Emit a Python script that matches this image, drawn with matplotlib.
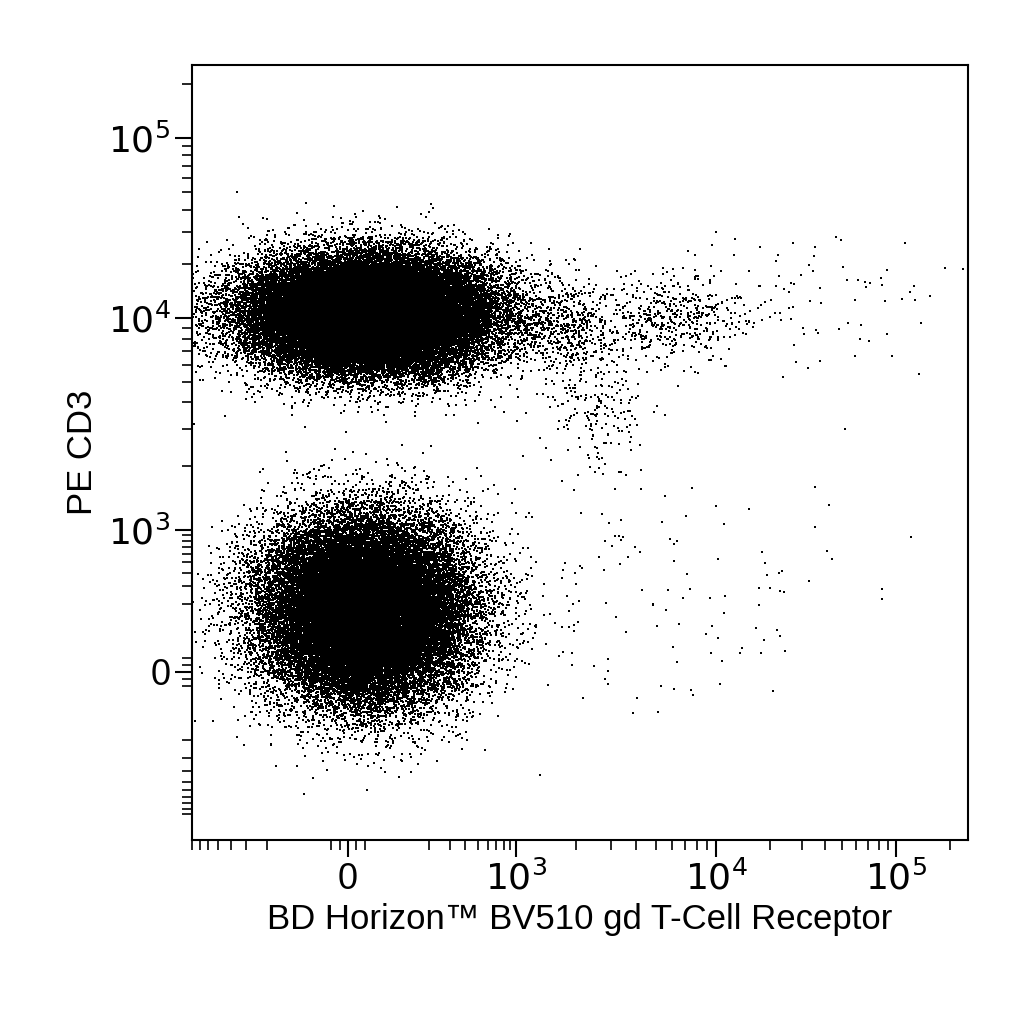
import numpy as np
import matplotlib
matplotlib.use("Agg")
import matplotlib.pyplot as plt

plt.rcParams['font.family'] = ['Liberation Sans', 'DejaVu Sans']

# Axis anchors (biexponential-like display): values and relative display units
x_anchor_vals = [-1000, 0, 1e3, 1e4, 1e5]
x_anchor_pos = [-168, 0, 168, 368, 548]
y_anchor_vals = [-1000, 0, 1e3, 1e4, 1e5]
y_anchor_pos = [-142, 0, 142, 354, 534]

# Populations: centre (value), spread (display units), count
pop_x_center = [40, 30, 1800, 6000, 2500, 30000, 5000]
pop_y_center = [10500, 170, 9000, 10000, 4000, 12000, 250]
pop_x_sd = [60, 50, 25, 35, 25, 60, 110]
pop_y_sd = [28, 45, 25, 22, 35, 40, 55]
pop_count = [50000, 40000, 500, 500, 200, 90, 140]

C = 100.0
def u(v):
    return np.arcsinh(np.asarray(v, float) / C)

def make_t(vals, pos):
    ua = u(vals); pa = np.asarray(pos, float)
    s0 = (pa[1]-pa[0])/(ua[1]-ua[0]); s1 = (pa[-1]-pa[-2])/(ua[-1]-ua[-2])
    def t(v):
        uu = u(v)
        out = np.interp(uu, ua, pa)
        out = np.where(uu < ua[0], pa[0] + (uu-ua[0])*s0, out)
        out = np.where(uu > ua[-1], pa[-1] + (uu-ua[-1])*s1, out)
        return out
    def tinv(p):
        p = np.asarray(p, float)
        uu = np.interp(p, pa, ua)
        uu = np.where(p < pa[0], ua[0] + (p-pa[0])/s0, uu)
        uu = np.where(p > pa[-1], ua[-1] + (p-pa[-1])/s1, uu)
        return np.sinh(uu) * C
    return t, tinv

tx, txi = make_t(x_anchor_vals, x_anchor_pos)
ty, tyi = make_t(y_anchor_vals, y_anchor_pos)

rng = np.random.default_rng(3)
xs, ys = [], []
for cx, cy, sx, sy, n in zip(pop_x_center, pop_y_center, pop_x_sd, pop_y_sd, pop_count):
    px = tx(cx) + rng.standard_normal(n) * sx
    py = ty(cy) + rng.standard_normal(n) * sy
    xs.append(txi(px)); ys.append(tyi(py))
xv = np.concatenate(xs); yv = np.concatenate(ys)

fig = plt.figure(figsize=(10.24, 10.24), dpi=100)
ax = fig.add_axes([0.1875, 0.1797, 0.758, 0.7568])
ax.scatter(tx(xv), ty(yv), s=2.0, c="black", marker="s", linewidths=0, rasterized=True)
ax.set_xlim(-156, 620)
ax.set_ylim(-168, 607)

major_vals = [0, 1e3, 1e4, 1e5]
major_lbl = ["0", r"$10^3$", r"$10^4$", r"$10^5$"]
minor = []
for d in [1e2, 1e3, 1e4, 1e5]:
    minor += [k*d for k in range(2, 10)]
minor += [-k*100 for k in range(2, 10)] + [-1000, -2000] + [-30, -15, 15, 30]
minor = np.array(minor)
xm = tx(minor); xm = xm[(xm > -156) & (xm < 620)]
ym = ty(minor); ym = ym[(ym > -168) & (ym < 607)]
ax.set_xticks(tx(major_vals)); ax.set_xticklabels(major_lbl)
ax.set_yticks(ty(major_vals)); ax.set_yticklabels(major_lbl)
ax.set_xticks(xm, minor=True); ax.set_yticks(ym, minor=True)
ax.tick_params(which="major", length=12, width=1.5, labelsize=26, color="black")
ax.tick_params(which="minor", length=7, width=1.2)
for s in ax.spines.values():
    s.set_linewidth(1.5)
ax.set_xlabel("BD Horizon™ BV510 gd T-Cell Receptor", fontsize=25, labelpad=4)
ax.set_ylabel("PE CD3", fontsize=25, labelpad=6)
fig.savefig("out.png", dpi=100)
